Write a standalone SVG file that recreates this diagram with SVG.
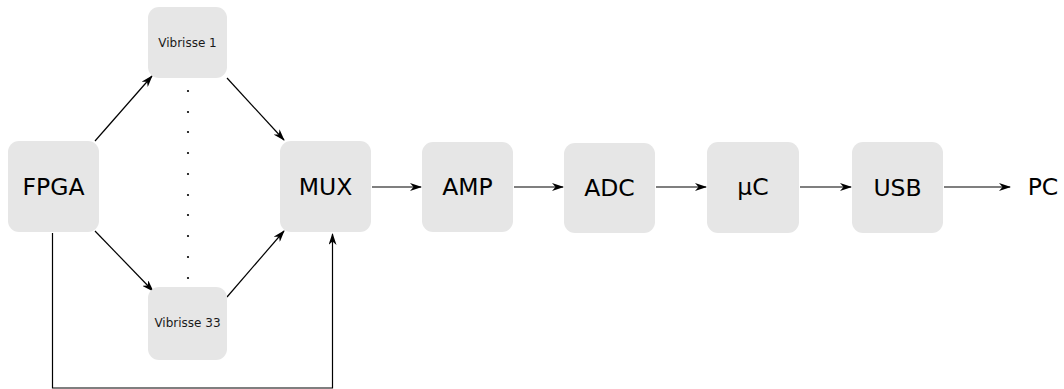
<svg xmlns="http://www.w3.org/2000/svg" width="1064" height="389" viewBox="0 0 1064 389">
<style>
.node{fill:#e6e6e6;}
.big{font-family:"DejaVu Sans",sans-serif;font-size:23.5px;fill:#000;text-anchor:middle;dominant-baseline:central;}
.small{font-family:"DejaVu Sans",sans-serif;font-size:12px;fill:#1a1a1a;text-anchor:middle;dominant-baseline:central;}
.edge{fill:none;stroke:#000;stroke-width:1.2;marker-end:url(#ah);}
.dot{fill:#000;}
</style>
<defs>
<marker id="ah" viewBox="0 0 12 8" refX="11" refY="4" markerWidth="12" markerHeight="8" markerUnits="userSpaceOnUse" orient="auto">
<path d="M0,0 L12,4 L0,8 L3.5,4 Z" fill="#000"/>
</marker>
</defs>
<g id="connectors">
<path class="edge" d="M95,141 L152,76"/>
<path class="edge" d="M227,78 L284,140"/>
<path class="edge" d="M95,231 L153,291"/>
<path class="edge" d="M227,297 L284,231"/>
<path class="edge" d="M52.5,233 L52.5,388 L332.5,388 L332.5,234"/>
<path class="edge" d="M372,187 L421,187"/>
<path class="edge" d="M514,187 L563,187"/>
<path class="edge" d="M656,187 L706,187"/>
<path class="edge" d="M800,187 L851,187"/>
<path class="edge" d="M944,187 L1010,187"/>
</g>
<g id="dots">
<circle class="dot" cx="188" cy="91" r="1.1"/>
<circle class="dot" cx="188" cy="112" r="1.1"/>
<circle class="dot" cx="188" cy="132" r="1.1"/>
<circle class="dot" cx="188" cy="153" r="1.1"/>
<circle class="dot" cx="188" cy="174" r="1.1"/>
<circle class="dot" cx="188" cy="195" r="1.1"/>
<circle class="dot" cx="188" cy="215" r="1.1"/>
<circle class="dot" cx="188" cy="236" r="1.1"/>
<circle class="dot" cx="188" cy="257" r="1.1"/>
<circle class="dot" cx="188" cy="278" r="1.1"/>
</g>
<g id="fpga"><rect class="node" x="8" y="141" width="91" height="91" rx="11"/><text class="big" x="53.5" y="187">FPGA</text></g>
<g id="vibrisse1"><rect class="node" x="148" y="7" width="79" height="71" rx="11"/><text class="small" x="187.5" y="43">Vibrisse 1</text></g>
<g id="vibrisse33"><rect class="node" x="148" y="287" width="79" height="73" rx="11"/><text class="small" x="187.5" y="323">Vibrisse 33</text></g>
<g id="mux"><rect class="node" x="280" y="141" width="91" height="91" rx="11"/><text class="big" x="325.5" y="187">MUX</text></g>
<g id="amp"><rect class="node" x="422" y="142" width="91" height="90" rx="11"/><text class="big" x="467.5" y="187">AMP</text></g>
<g id="adc"><rect class="node" x="564" y="143" width="91" height="90" rx="11"/><text class="big" x="609.5" y="188">ADC</text></g>
<g id="uc"><rect class="node" x="707" y="142" width="92" height="91" rx="11"/><text class="big" x="753" y="187">µC</text></g>
<g id="usb"><rect class="node" x="852" y="142" width="91" height="91" rx="11"/><text class="big" x="897.5" y="188">USB</text></g>
<g id="pc"><text class="big" x="1043" y="187">PC</text></g>
</svg>
